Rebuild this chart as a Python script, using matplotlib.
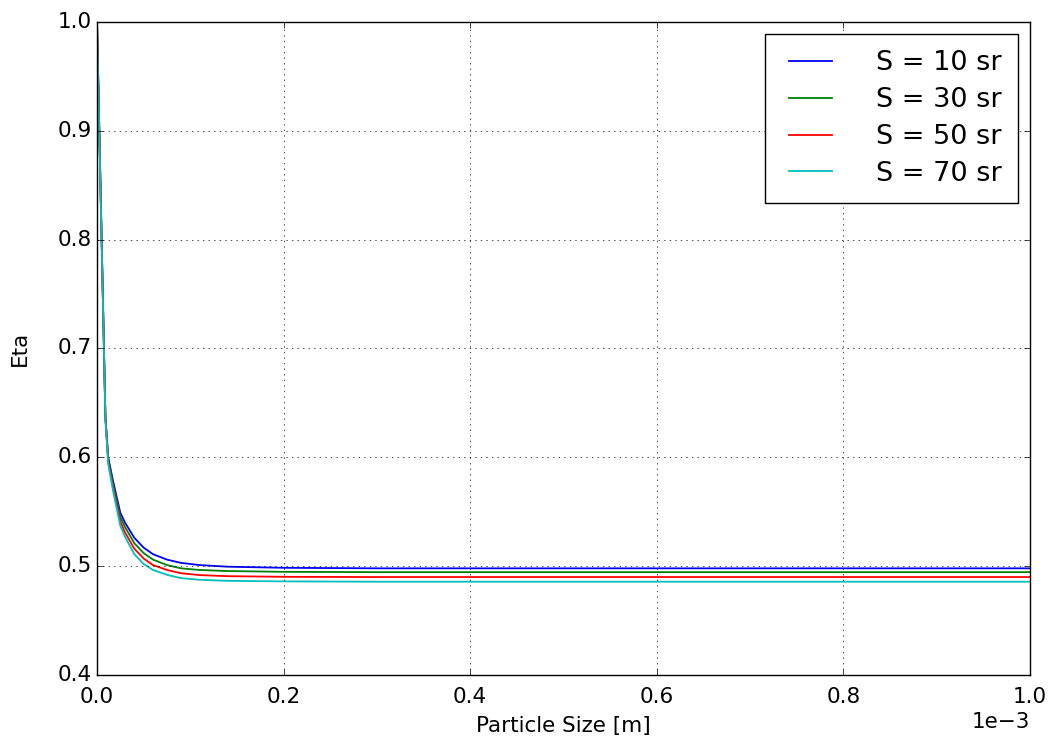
import numpy as np
import matplotlib
matplotlib.use("Agg")
import matplotlib.pyplot as plt

# particle size samples (m)
size = np.array([0, 0.009, 0.012, 0.017, 0.025, 0.03, 0.04, 0.05, 0.06,
                 0.075, 0.09, 0.11, 0.14, 0.2, 0.3, 0.5, 1.0]) * 1e-3

eta_s10 = [1.0, 0.637, 0.600, 0.579, 0.549, 0.540, 0.526, 0.517, 0.511,
           0.506, 0.503, 0.501, 0.4995, 0.4985, 0.498, 0.498, 0.498]
eta_s30 = [1.0, 0.637, 0.598, 0.576, 0.545, 0.536, 0.521, 0.512, 0.506,
           0.501, 0.498, 0.4965, 0.4955, 0.4948, 0.4945, 0.4945, 0.4945]
eta_s50 = [1.0, 0.636, 0.596, 0.573, 0.541, 0.531, 0.516, 0.507, 0.501,
           0.4965, 0.4935, 0.4918, 0.4908, 0.4902, 0.490, 0.490, 0.490]
eta_s70 = [0.995, 0.635, 0.594, 0.570, 0.537, 0.527, 0.511, 0.502, 0.4965,
           0.492, 0.489, 0.4875, 0.4865, 0.486, 0.4857, 0.4857, 0.4857]

labels = ["S = 10 sr", "S = 30 sr", "S = 50 sr", "S = 70 sr"]
colors = ["b", "g", "r", "c"]

plt.style.use("classic")
plt.rcParams["figure.facecolor"] = "white"
plt.rcParams["savefig.facecolor"] = "white"

fig = plt.figure(figsize=(10.58, 7.42), dpi=100)
ax = fig.add_axes([0.0917, 0.0903, 0.8818, 0.8801])

for eta, lab, c in zip([eta_s10, eta_s30, eta_s50, eta_s70], labels, colors):
    ax.plot(size, eta, color=c, lw=1.3, label=lab)

ax.set_xlim(0, 1e-3)
ax.set_ylim(0.4, 1.0)
ax.grid(True)
ax.ticklabel_format(axis="x", style="sci", scilimits=(0, 0))
ax.tick_params(labelsize=15.5)
ax.tick_params(axis="x", pad=9)
ax.xaxis.get_offset_text().set_fontsize(15.5)
ax.set_xlabel("Particle Size [m]", fontsize=15.5, labelpad=6)
ax.set_ylabel("Eta", fontsize=15.5, labelpad=20)
ax.legend(loc="upper right", fontsize=19.5, handlelength=2.2,
          handletextpad=1.3, borderpad=0.6, labelspacing=0.4,
          borderaxespad=0.45)

fig.savefig("out.png", dpi=100)
